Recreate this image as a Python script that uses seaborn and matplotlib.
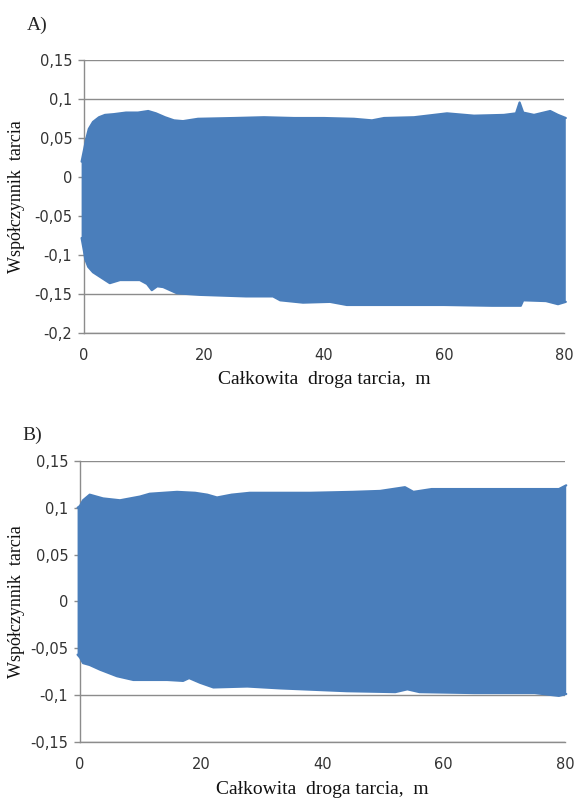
import numpy as np
import matplotlib
matplotlib.use("Agg")
import matplotlib.pyplot as plt
import seaborn as sns
from matplotlib.ticker import FixedLocator, FixedFormatter

# ---------------- data ----------------
# Panel A: envelope of the friction coefficient band
a_up_x = [-0.4, 0.0, 0.4, 0.8, 1.5, 2.5, 3.5, 5, 7, 9, 10.7, 12, 13.5, 15, 16.5, 19, 25, 30, 35, 40,
          45, 48, 50, 55, 60.5, 65, 70, 72, 72.6, 73.2, 75, 77.7, 79, 80.3]
a_up_y = [0.020, 0.035, 0.050, 0.062, 0.071, 0.077, 0.080, 0.081, 0.083, 0.083, 0.085, 0.082, 0.077,
          0.073, 0.072, 0.075, 0.076, 0.077, 0.076, 0.076, 0.075, 0.073, 0.076, 0.077, 0.082, 0.079,
          0.080, 0.082, 0.096, 0.083, 0.080, 0.085, 0.080, 0.076]
a_lo_x = [-0.4, 0.0, 0.2, 0.7, 1.5, 2.7, 4.3, 6, 9.3, 10.5, 11.3, 12.2, 13.2, 15.5, 19.3, 27, 31.5,
          32.7, 36.5, 41, 43.8, 52, 60, 68, 72.8, 73.2, 77, 79, 80.3]
a_lo_y = [-0.078, -0.095, -0.105, -0.115, -0.122, -0.128, -0.136, -0.132, -0.132, -0.137, -0.145,
          -0.140, -0.141, -0.149, -0.151, -0.153, -0.153, -0.158, -0.161, -0.160, -0.164, -0.164,
          -0.164, -0.165, -0.165, -0.158, -0.159, -0.163, -0.160]

# Panel B
b_up_x = [-0.4, 0.0, 0.5, 1.6, 3.8, 6.6, 9.9, 11.5, 16, 19, 21, 22.6, 25, 28, 38, 45, 49.5, 53.6,
          55, 58, 65, 70, 75, 79, 80.2]
b_up_y = [0.100, 0.102, 0.108, 0.114, 0.110, 0.108, 0.112, 0.115, 0.117, 0.116, 0.114, 0.111, 0.114,
          0.116, 0.116, 0.117, 0.118, 0.122, 0.117, 0.120, 0.120, 0.120, 0.120, 0.120, 0.124]
b_lo_x = [-0.4, 0.0, 0.5, 1.6, 3.3, 6.1, 8.8, 14.4, 17, 18, 19.8, 22, 27.6, 33, 44, 52, 54, 56, 65,
          75, 79, 80.2]
b_lo_y = [-0.057, -0.060, -0.066, -0.068, -0.073, -0.080, -0.084, -0.084, -0.085, -0.082, -0.087,
          -0.092, -0.091, -0.093, -0.096, -0.097, -0.094, -0.097, -0.098, -0.098, -0.101, -0.099]

x_ticks = [0, 20, 40, 60, 80]
x_tick_labels = ["0", "20", "40", "60", "80"]
a_y_ticks = [-0.2, -0.15, -0.1, -0.05, 0, 0.05, 0.1, 0.15]
a_y_tick_labels = ["-0,2", "-0,15", "-0,1", "-0,05", "0", "0,05", "0,1", "0,15"]
b_y_ticks = [-0.15, -0.1, -0.05, 0, 0.05, 0.1, 0.15]
b_y_tick_labels = ["-0,15", "-0,1", "-0,05", "0", "0,05", "0,1", "0,15"]

y_label = "Współczynnik  tarcia"
x_label = "Całkowita  droga tarcia,  m"
panel_labels = ["A)", "B)"]

# ---------------- style ----------------
sns.set_style("white")
plt.rcParams["font.family"] = ["DejaVu Sans"]
BLUE = "#4a7ebb"
GRAY = "#8c8c8c"
SERIF = ["Liberation Serif", "DejaVu Serif"]

fig = plt.figure(figsize=(5.76, 8.01), dpi=100)
W, H = 576, 801


def axes_px(left, right, top, bottom):
    return fig.add_axes([left / W, 1 - bottom / H, (right - left) / W, (bottom - top) / H])


def draw_panel(ax, ux, uy, lx, ly, yticks, ylabels, ylim):
    sns.lineplot(x=ux, y=uy, ax=ax, color=BLUE, lw=1.6, sort=False, estimator=None)
    sns.lineplot(x=lx, y=ly, ax=ax, color=BLUE, lw=1.6, sort=False, estimator=None)
    ax.fill(np.r_[ux, lx[::-1]], np.r_[uy, ly[::-1]], color=BLUE, lw=0, clip_on=False, zorder=3)
    for ln in ax.lines:
        ln.set_clip_on(False)
        ln.set_zorder(3)
    ax.set_xlim(0, 80)
    ax.set_ylim(*ylim)
    ax.xaxis.set_major_locator(FixedLocator(x_ticks))
    ax.xaxis.set_major_formatter(FixedFormatter(x_tick_labels))
    ax.yaxis.set_major_locator(FixedLocator(yticks))
    ax.yaxis.set_major_formatter(FixedFormatter(ylabels))
    ax.yaxis.grid(True, color=GRAY, lw=1.0)
    ax.xaxis.grid(False)
    ax.set_axisbelow(True)
    for s in ["top", "right"]:
        ax.spines[s].set_visible(False)
    for s in ["left", "bottom"]:
        ax.spines[s].set_color(GRAY)
        ax.spines[s].set_linewidth(1.0)
    ax.tick_params(axis="y", left=True, length=4.5, width=1.0, color=GRAY, pad=4,
                   labelsize=10.5, labelcolor="#333333")
    ax.tick_params(axis="x", bottom=False, length=0, pad=11, labelsize=10.5, labelcolor="#333333")
    ax.set_xlabel(x_label, fontsize=14, family=SERIF, color="#111111")
    ax.set_ylabel(y_label, fontsize=13, family=SERIF, color="#111111")
    ax.xaxis.label.set_va("center")
    ax.yaxis.label.set_va("center")


axA = axes_px(84, 564, 60.4, 333)
draw_panel(axA, np.array(a_up_x), np.array(a_up_y), np.array(a_lo_x), np.array(a_lo_y),
           a_y_ticks, a_y_tick_labels, (-0.2, 0.15))
axA.xaxis.set_label_coords(0.5, (333 - 380) / (333 - 60.4))
axA.yaxis.set_label_coords((17 - 84) / 480, 0.5)

axB = axes_px(80, 565, 461, 741.7)
draw_panel(axB, np.array(b_up_x), np.array(b_up_y), np.array(b_lo_x), np.array(b_lo_y),
           b_y_ticks, b_y_tick_labels, (-0.15, 0.15))
axB.xaxis.set_label_coords(0.5, (741.7 - 789) / (741.7 - 461))
axB.yaxis.set_label_coords((17 - 80) / 485, 0.5)

fig.text(37 / W, 1 - 25 / H, panel_labels[0], fontsize=14, family=SERIF, ha="center", va="center")
fig.text(32 / W, 1 - 435 / H, panel_labels[1], fontsize=14, family=SERIF, ha="center", va="center")

fig.savefig("out.png", dpi=100, facecolor="white")
